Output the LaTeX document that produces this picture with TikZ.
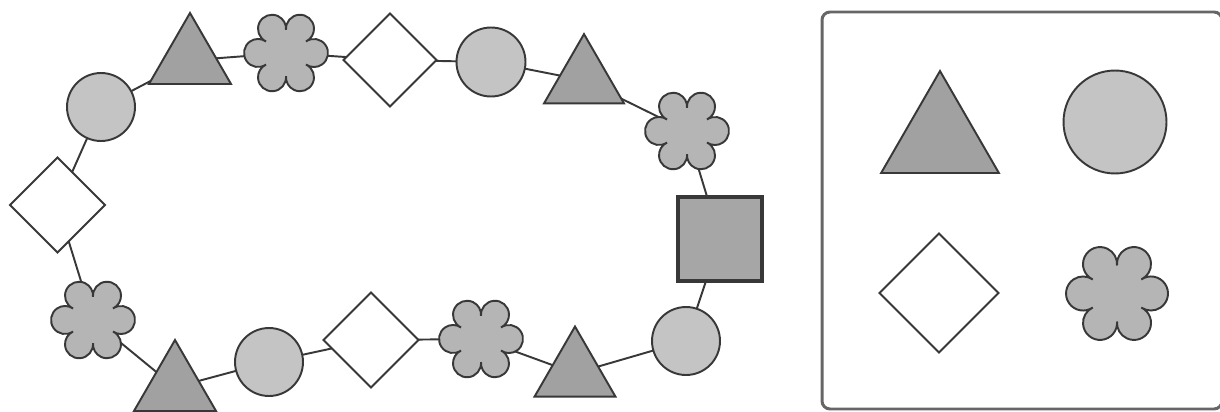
\documentclass[tikz,border=0pt]{standalone}
\usetikzlibrary{shapes.geometric}
\pgfdeclarelayer{background}
\pgfsetlayers{background,main}
\definecolor{inkgray}{gray}{0.22}
\definecolor{framegray}{gray}{0.40}
\definecolor{trifill}{gray}{0.63}
\definecolor{roundfill}{gray}{0.77}
\definecolor{flowerfill}{gray}{0.71}
\definecolor{squarefill}{gray}{0.65}
\tikzset{
    outline/.style={draw=inkgray, line width=1.1pt},
    tri/.style={outline, regular polygon, regular polygon sides=3, inner sep=0pt, fill=trifill},
    rnd/.style={outline, circle, inner sep=0pt, fill=roundfill},
    dia/.style={outline, diamond, inner sep=0pt, fill=white},
    sq/.style={draw=inkgray, line width=2pt, rectangle, inner sep=0pt, fill=squarefill},
    link/.style={draw=inkgray, line width=1.1pt},
    pics/flower/.style={code={
        \coordinate (-c) at (0,0);
        \draw[outline, fill=flowerfill] (-30:{0.55*#1})
            \foreach \a in {0,60,...,300}{ arc[start angle=\a-124.6, end angle=\a+124.6, radius=0.334*#1] } -- cycle;
    }}
}
\begin{document}
\begin{tikzpicture}[x=0.02cm, y=-0.02cm]
                \useasboundingbox (0,0) rectangle (1220,412);
                % the loop
                \node[rnd, minimum size=1.36cm] (c1) at (101,107) {};
                \node[tri, minimum size=1.894cm] (t1) at (190,60.3) {};
                \pic (f1) at (286,53) {flower=42};
                \node[dia, minimum size=1.88cm] (d1) at (390,60) {};
                \node[rnd, minimum size=1.38cm] (c2) at (491,62) {};
                \node[tri, minimum size=1.848cm] (t2) at (584,80.3) {};
                \pic (f2) at (687,131) {flower=42};
                \node[sq, minimum size=1.68cm] (s1) at (720,239) {};
                \node[rnd, minimum size=1.36cm] (c3) at (686,341) {};
                \node[tri, minimum size=1.871cm] (t3) at (575,373.3) {};
                \pic (f3) at (481,339) {flower=42};
                \node[dia, minimum size=1.92cm] (d2) at (371,340) {};
                \node[rnd, minimum size=1.36cm] (c4) at (269,362) {};
                \node[tri, minimum size=1.894cm] (t4) at (175,387.3) {};
                \pic (f4) at (93,320) {flower=42};
                \node[dia, minimum size=1.92cm] (d3) at (57.5,205) {};
                \begin{pgfonlayer}{background}
                    \foreach \a/\b in {c1/t1, t1/f1-c, f1-c/d1, d1/c2, c2/t2, t2/f2-c, f2-c/s1, s1/c3,
                                       c3/t3, t3/f3-c, f3-c/d2, d2/c4, c4/t4, t4/f4-c, f4-c/d3, d3/c1}
                        \draw[link] (\a.center) -- (\b.center);
                \end{pgfonlayer}
                % the key
                \draw[framegray, line width=1.7pt, rounded corners=0.16cm] (822,12) rectangle (1222,409);
                \node[tri, minimum size=2.72cm] (t5) at (940,139) {};
                \node[rnd, minimum size=2.06cm] (c5) at (1115,122) {};
                \node[dia, minimum size=2.4cm] (d4) at (939,293) {};
                \pic (f5) at (1117,293.5) {flower=51};
            \end{tikzpicture}
\end{document}
